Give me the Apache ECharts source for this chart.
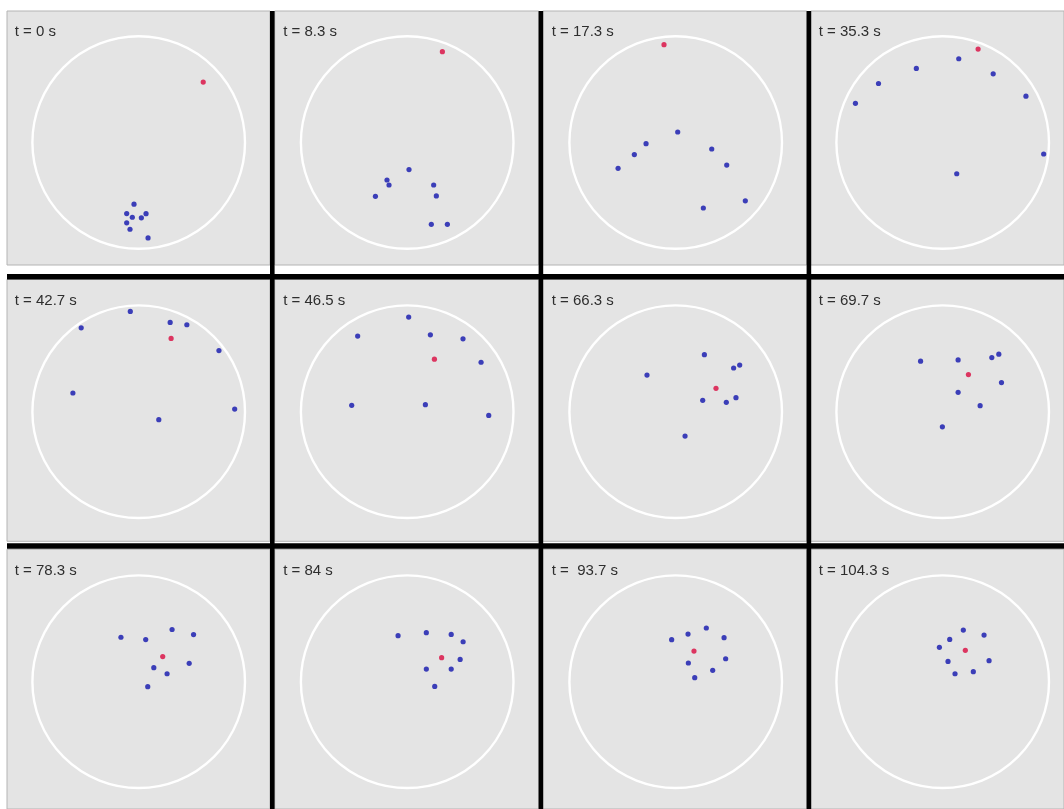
<!DOCTYPE html>
<html>
<head>
<meta charset="utf-8">
<script src="https://cdn.jsdelivr.net/npm/echarts@6/dist/echarts.min.js"></script>
<style>
  html, body { margin: 0; padding: 0; background: #ffffff; }
  #chart { width: 1064px; height: 809px; }
</style>
</head>
<body>
<div id="chart"></div>
<script>
// Snapshot times, one per panel (row by row)
const TIME_LABELS = [
  't = 0 s', 't = 8.3 s', 't = 17.3 s', 't = 35.3 s',
  't = 42.7 s', 't = 46.5 s', 't = 66.3 s', 't = 69.7 s',
  't = 78.3 s', 't = 84 s', 't =  93.7 s', 't = 104.3 s'
];

// Arena: unit circle centred on the origin
const ARENA_RADIUS = 1;

// Leader (red) position in each snapshot, arena units
const LEADER = [
  [0.607, 0.568], [0.331, 0.854], [-0.110, 0.920], [0.333, 0.879],
  [0.305, 0.689], [0.256, 0.494], [0.379, 0.220], [0.242, 0.349],
  [0.226, 0.236], [0.324, 0.226], [0.172, 0.288], [0.213, 0.295]
];

// Follower (blue) positions per snapshot, arena units
const FOLLOWERS_T0 = [[-0.044,-0.580],[-0.113,-0.669],[-0.060,-0.703],[0.025,-0.709],[0.069,-0.670],[-0.113,-0.756],[-0.082,-0.816],[0.088,-0.898]];
const FOLLOWERS_T1 = [[0.017,-0.255],[-0.190,-0.353],[-0.171,-0.400],[-0.299,-0.506],[0.249,-0.400],[0.274,-0.503],[0.227,-0.770],[0.378,-0.770]];
const FOLLOWERS_T2 = [[0.019,0.099],[-0.279,-0.011],[-0.389,-0.114],[-0.542,-0.243],[0.339,-0.061],[0.480,-0.212],[0.260,-0.616],[0.655,-0.549]];
const FOLLOWERS_T3 = [[0.151,0.788],[-0.248,0.697],[-0.604,0.555],[-0.821,0.369],[0.475,0.646],[0.783,0.436],[0.950,-0.108],[0.132,-0.294]];
const FOLLOWERS_T4 = [[-0.079,0.943],[-0.541,0.789],[0.296,0.840],[0.453,0.818],[0.755,0.575],[-0.619,0.176],[0.189,-0.075],[0.903,0.025]];
const FOLLOWERS_T5 = [[0.014,0.890],[-0.466,0.711],[0.218,0.723],[0.525,0.686],[0.695,0.465],[-0.522,0.060],[0.171,0.066],[0.767,-0.035]];
const FOLLOWERS_T6 = [[0.270,0.536],[-0.270,0.345],[0.545,0.411],[0.602,0.439],[0.254,0.107],[0.476,0.088],[0.567,0.132],[0.088,-0.229]];
const FOLLOWERS_T7 = [[-0.208,0.475],[0.145,0.487],[0.462,0.509],[0.528,0.541],[0.553,0.274],[0.145,0.182],[0.352,0.057],[-0.003,-0.142]];
const FOLLOWERS_T8 = [[-0.167,0.418],[0.066,0.396],[0.314,0.491],[0.516,0.443],[0.475,0.173],[0.142,0.132],[0.267,0.075],[0.085,-0.047]];
const FOLLOWERS_T9 = [[-0.086,0.433],[0.180,0.461],[0.414,0.445],[0.526,0.376],[0.498,0.210],[0.180,0.119],[0.414,0.119],[0.259,-0.044]];
const FOLLOWERS_T10 = [[-0.038,0.395],[0.116,0.448],[0.288,0.505],[0.455,0.414],[0.470,0.216],[0.119,0.176],[0.348,0.107],[0.179,0.038]];
const FOLLOWERS_T11 = [[0.194,0.486],[0.066,0.398],[-0.031,0.323],[0.389,0.439],[0.436,0.198],[0.050,0.191],[0.116,0.075],[0.288,0.094]];

const FOLLOWERS = [
  FOLLOWERS_T0, FOLLOWERS_T1, FOLLOWERS_T2, FOLLOWERS_T3,
  FOLLOWERS_T4, FOLLOWERS_T5, FOLLOWERS_T6, FOLLOWERS_T7,
  FOLLOWERS_T8, FOLLOWERS_T9, FOLLOWERS_T10, FOLLOWERS_T11
];

// Panel layout (pixels); the last column and row run to the canvas edge
const COL_LEFT = [7, 274.7, 542.7, 810.7];
const COL_WIDTH = [263, 264, 264, 253.3];
const ROW_TOP = [11, 279.3, 549.3];
const ROW_HEIGHT = [254, 262, 259.7];
const CENTER_X = [138.7, 407.2, 675.7, 942.7];
const CENTER_Y = [142.5, 411.7, 681.7];
const ARENA_PX = 106.3;          // arena radius on screen
const V_DIVIDERS = [270, 538.6, 806.6];
const H_DIVIDERS = [274, 543.3];

const grids = [], xAxes = [], yAxes = [], series = [], titles = [], graphics = [];

for (let i = 0; i < 12; i++) {
  const r = Math.floor(i / 4), c = i % 4;
  const left = COL_LEFT[c], top = ROW_TOP[r], w = COL_WIDTH[c], h = ROW_HEIGHT[r];
  const cx = CENTER_X[c], cy = CENTER_Y[r];
  const unit = ARENA_PX / ARENA_RADIUS;

  grids.push({
    left: left, top: top, width: w, height: h,
    show: true, backgroundColor: '#e4e4e4',
    borderColor: '#b4b4b4', borderWidth: 1,
    containLabel: false
  });
  xAxes.push({
    type: 'value', gridIndex: i, show: false,
    min: (left - cx) / unit, max: (left + w - cx) / unit
  });
  yAxes.push({
    type: 'value', gridIndex: i, show: false,
    min: -(top + h - cy) / unit, max: (cy - top) / unit
  });

  // arena boundary
  series.push({
    type: 'custom', xAxisIndex: i, yAxisIndex: i, silent: true, clip: false,
    data: [[0, 0, ARENA_RADIUS]],
    renderItem: function (params, api) {
      const p = api.coord([api.value(0), api.value(1)]);
      const rad = api.size([api.value(2), 0])[0];
      return {
        type: 'circle',
        shape: { cx: p[0], cy: p[1], r: rad },
        style: { fill: 'none', stroke: '#ffffff', lineWidth: 2.4 }
      };
    }
  });
  // followers
  series.push({
    type: 'scatter', xAxisIndex: i, yAxisIndex: i, silent: true,
    symbolSize: 5.2, data: FOLLOWERS[i],
    itemStyle: { color: '#3b3eb8', opacity: 1 }
  });
  // leader
  series.push({
    type: 'scatter', xAxisIndex: i, yAxisIndex: i, silent: true,
    symbolSize: 5.2, data: [LEADER[i]],
    itemStyle: { color: '#dc3560', opacity: 1 }
  });

  titles.push({
    text: TIME_LABELS[i],
    left: cx - 124, top: cy - 118, padding: 0,
    textStyle: {
      fontFamily: '"Liberation Sans", Arial, Helvetica, sans-serif',
      fontSize: 15, fontWeight: 'normal', color: '#2e2e2e'
    }
  });
}

// black separators between the panels
V_DIVIDERS.forEach(function (x) {
  graphics.push({ type: 'rect', shape: { x: x, y: 11, width: 4.6, height: 798 },
                  style: { fill: '#000000' }, z: 100 });
});
H_DIVIDERS.forEach(function (y) {
  graphics.push({ type: 'rect', shape: { x: 7, y: y, width: 1057, height: 5.5 },
                  style: { fill: '#000000' }, z: 100 });
});

const chart = echarts.init(document.getElementById('chart'), null, { renderer: 'canvas' });
chart.setOption({
  animation: false,
  backgroundColor: '#ffffff',
  title: titles,
  grid: grids,
  xAxis: xAxes,
  yAxis: yAxes,
  series: series,
  graphic: graphics
});
</script>
</body>
</html>
